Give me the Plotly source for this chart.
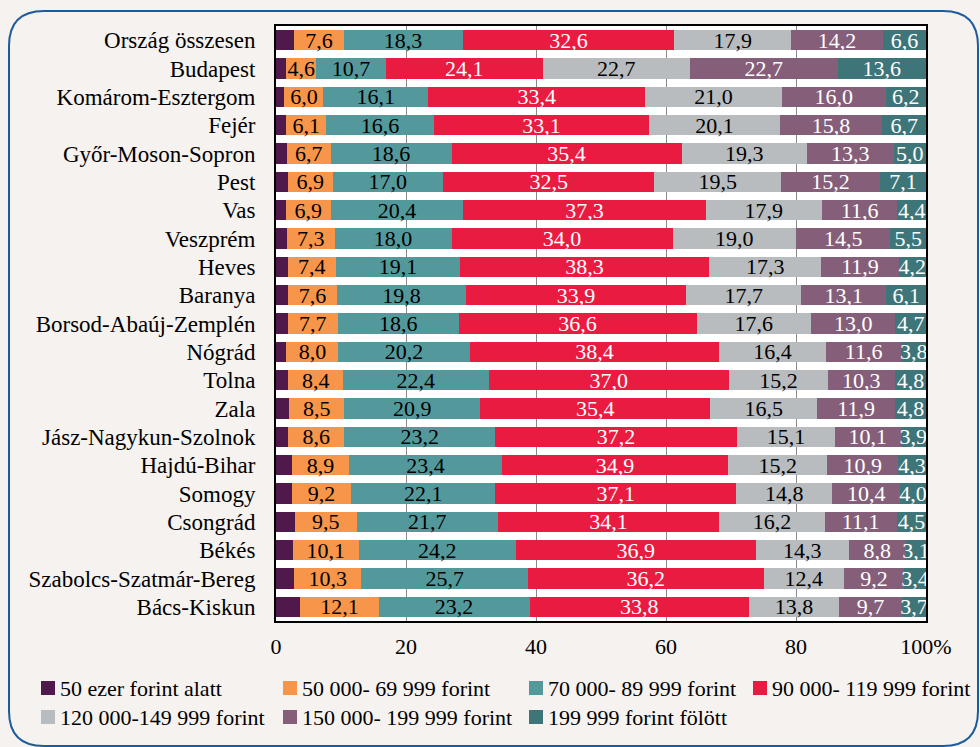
import plotly.graph_objects as go

categories = ["Ország összesen", "Budapest", "Komárom-Esztergom", "Fejér", "Győr-Moson-Sopron",
              "Pest", "Vas", "Veszprém", "Heves", "Baranya", "Borsod-Abaúj-Zemplén", "Nógrád",
              "Tolna", "Zala", "Jász-Nagykun-Szolnok", "Hajdú-Bihar", "Somogy", "Csongrád",
              "Békés", "Szabolcs-Szatmár-Bereg", "Bács-Kiskun"]

s_below50 = [2.8, 1.6, 1.3, 1.6, 1.7, 1.8, 1.5, 1.7, 1.8, 1.8, 1.8, 1.6, 1.9, 2.0, 1.9, 2.4, 2.4, 2.9, 2.6, 2.8, 3.7]
s_50_70 = [7.6, 4.6, 6.0, 6.1, 6.7, 6.9, 6.9, 7.3, 7.4, 7.6, 7.7, 8.0, 8.4, 8.5, 8.6, 8.9, 9.2, 9.5, 10.1, 10.3, 12.1]
s_70_90 = [18.3, 10.7, 16.1, 16.6, 18.6, 17.0, 20.4, 18.0, 19.1, 19.8, 18.6, 20.2, 22.4, 20.9, 23.2, 23.4, 22.1, 21.7, 24.2, 25.7, 23.2]
s_90_120 = [32.6, 24.1, 33.4, 33.1, 35.4, 32.5, 37.3, 34.0, 38.3, 33.9, 36.6, 38.4, 37.0, 35.4, 37.2, 34.9, 37.1, 34.1, 36.9, 36.2, 33.8]
s_120_150 = [17.9, 22.7, 21.0, 20.1, 19.3, 19.5, 17.9, 19.0, 17.3, 17.7, 17.6, 16.4, 15.2, 16.5, 15.1, 15.2, 14.8, 16.2, 14.3, 12.4, 13.8]
s_150_200 = [14.2, 22.7, 16.0, 15.8, 13.3, 15.2, 11.6, 14.5, 11.9, 13.1, 13.0, 11.6, 10.3, 11.9, 10.1, 10.9, 10.4, 11.1, 8.8, 9.2, 9.7]
s_above200 = [6.6, 13.6, 6.2, 6.7, 5.0, 7.1, 4.4, 5.5, 4.2, 6.1, 4.7, 3.8, 4.8, 4.8, 3.9, 4.3, 4.0, 4.5, 3.1, 3.4, 3.7]

series_names = ["50 ezer forint alatt", "50 000- 69 999 forint", "70 000- 89 999 forint",
                "90 000- 119 999 forint", "120 000-149 999 forint", "150 000- 199 999 forint",
                "199 999 forint fölött"]
series_values = [s_below50, s_50_70, s_70_90, s_90_120, s_120_150, s_150_200, s_above200]
colors = ["#4f1a4b", "#f7964a", "#53999c", "#ea1b41", "#b8bcbf", "#855f79", "#3e7579"]
text_colors = [None, "black", "black", "white", "black", "white", "white"]
show_text = [False, True, True, True, True, True, True]

tick_vals = [0, 20, 40, 60, 80, 100]
tick_text = ["0", "20", "40", "60", "80", "100%"]

FONT = "Liberation Serif"
W, H = 980, 747
L, R, T, B = 276, 54, 26, 126
PW, PH = W - L - R, H - T - B


def px(x):
    return (x - L) / PW


def py(y):
    return (H - B - y) / PH


fig = go.Figure()
for name, vals, col, tc, st in zip(series_names, series_values, colors, text_colors, show_text):
    fig.add_trace(go.Bar(
        y=categories, x=vals, name=name, orientation="h",
        marker=dict(color=col, line=dict(width=0)),
        text=vals if st else None,
        texttemplate="%{x:.1f}" if st else None,
        textposition="inside" if st else "none",
        insidetextanchor="middle",
        textangle=0,
        constraintext="none",
        textfont=dict(family=FONT, size=22, color=tc),
        showlegend=False,
        hoverinfo="x+y+name",
    ))

shapes = []
# rounded border around whole chart
x0, y0, x1, y1, r = 9, 11, 978, 746, 35
path = (f"M {px(x0)},{py(y0 + r)} Q {px(x0)},{py(y0)} {px(x0 + r)},{py(y0)} "
        f"L {px(x1 - r)},{py(y0)} Q {px(x1)},{py(y0)} {px(x1)},{py(y0 + r)} "
        f"L {px(x1)},{py(y1 - r)} Q {px(x1)},{py(y1)} {px(x1 - r)},{py(y1)} "
        f"L {px(x0 + r)},{py(y1)} Q {px(x0)},{py(y1)} {px(x0)},{py(y1 - r)} Z")
shapes.append(dict(type="path", xref="paper", yref="paper", path=path,
                   line=dict(color="#1d5c9c", width=2), fillcolor="rgba(0,0,0,0)", layer="below"))

# manual legend
legend_pos = [(41, 688), (283, 688), (529, 688), (753, 688), (41, 717), (283, 717), (529, 717)]
annotations = []
for (lx, ly), name, col in zip(legend_pos, series_names, colors):
    shapes.append(dict(type="rect", xref="paper", yref="paper",
                       x0=px(lx), x1=px(lx + 14), y0=py(ly + 7), y1=py(ly - 7),
                       fillcolor=col, line=dict(width=0)))
    annotations.append(dict(xref="paper", yref="paper", x=px(lx + 17), y=py(ly),
                            xanchor="left", yanchor="middle", text=name, showarrow=False,
                            font=dict(family=FONT, size=22, color="black")))

fig.update_layout(
    width=W, height=H,
    margin=dict(l=L, r=R, t=T, b=B, pad=0, autoexpand=False),
    barmode="stack", bargap=0.29,
    paper_bgcolor="#f5f2ef", plot_bgcolor="white",
    separators=", ",
    font=dict(family=FONT, size=22, color="black"),
    shapes=shapes, annotations=annotations,
    xaxis=dict(range=[0, 100], tickvals=tick_vals, ticktext=tick_text,
               showgrid=True, gridcolor="#8a8a8a", gridwidth=1, zeroline=False,
               showline=True, linecolor="black", linewidth=2, mirror=True,
               ticks="", ticklabelstandoff=5, tickfont=dict(family=FONT, size=22)),
    yaxis=dict(autorange="reversed", showgrid=False, showline=True, linecolor="black",
               linewidth=2, mirror=True, ticks="", ticklabelstandoff=14,
               tickfont=dict(family=FONT, size=23)),
)

fig.write_html("out.html", config={"displayModeBar": False},
               post_script="document.body.style.margin='0';document.body.style.overflow='hidden';")
